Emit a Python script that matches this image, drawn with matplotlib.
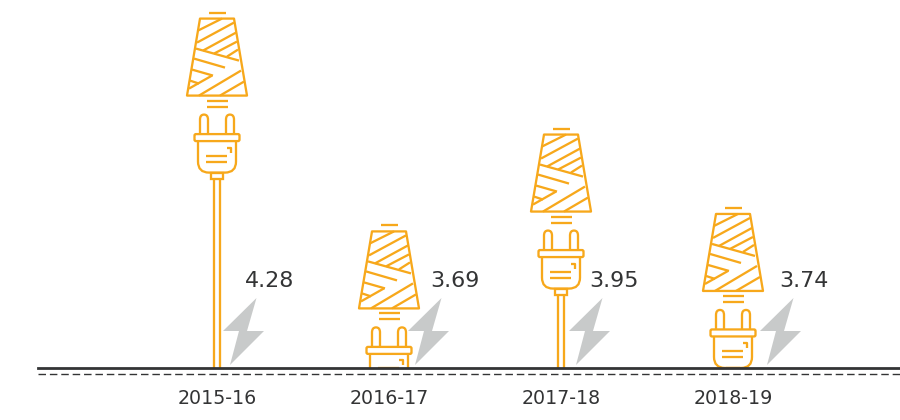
import matplotlib

matplotlib.use("Agg")
import matplotlib.pyplot as plt
from matplotlib.patches import FancyBboxPatch, PathPatch, Polygon, Rectangle
from matplotlib.path import Path
from matplotlib.transforms import Affine2D, ScaledTranslation

years = ["2015-16", "2016-17", "2017-18", "2018-19"]
values = [4.28, 3.69, 3.95, 3.74]

ORANGE = "#f7a81b"
GREY = "#c8caca"
DARK = "#333435"
DPI = 100
BASE_VALUE = 3.29
PX_PER_UNIT = 359

# horizontal shift of bolt and value label from the icon, pixels
bolt_shift = [6, 19, 8, 27]
label_shift = [28, 41, 28, 46]
# the icons in the original sit a little off a straight scale, pixels (down)
icon_nudge = [0, 1, -2.5, 1.5]

# stripes on the cone, pixels from the icon top centre
STRIPES = [
    ((-19, 18), (5, 6)), ((-20, 30), (17, 10)), ((-14, 38), (19, 20)),
    ((-3, 41), (20, 29)), ((10, 44), (21, 37)), ((-21, 36), (22, 48)),
    ((-23, 46), (8, 55)), ((-25, 57), (-4, 63)), ((-27, 68), (-18, 71)),
    ((-28, 76), (-5, 63)), ((-18, 83), (24, 58)), ((3, 83), (27, 69)),
]


def px_transform(ax, x, y, nudge=0):
    """Pixel offsets (y down) from a data point."""
    return Affine2D().scale(1, -1).translate(*ax.transData.transform((x, y))).translate(0, -nudge)


def draw_icon(ax, x, value, nudge):
    trans = px_transform(ax, x, value, nudge)
    lw = 1.65
    clip = Rectangle((0, 0), 1, 1, transform=ax.transAxes)

    def add(artist):
        ax.add_artist(artist)
        artist.set_clip_path(clip)

    def seg(points):
        line = plt.Line2D(
            *zip(*points), transform=trans, color=ORANGE, lw=lw,
            solid_capstyle="butt", solid_joinstyle="round",
        )
        add(line)

    seg([(-8.5, 0), (8.5, 0)])
    add(Polygon([(-17, 6), (17, 6), (30, 83), (-30, 83)], closed=True, fill=False,
                ec=ORANGE, lw=lw, transform=trans, joinstyle="round"))
    for stripe in STRIPES:
        seg(stripe)
    seg([(-10, 88), (11, 88)])
    seg([(-10, 94), (11, 94)])

    # prongs
    for cx in (-13, 13):
        verts = [(cx - 4, 121), (cx - 4, 107), (cx - 4, 102), (cx, 102), (cx + 4, 102),
                 (cx + 4, 107), (cx + 4, 121)]
        codes = [Path.MOVETO, Path.LINETO, Path.CURVE3, Path.CURVE3, Path.CURVE3,
                 Path.CURVE3, Path.LINETO]
        add(PathPatch(Path(verts, codes), fill=False, ec=ORANGE, lw=lw, transform=trans))

    add(FancyBboxPatch((-22.5, 121.5), 45, 7, boxstyle="round,pad=0,rounding_size=1.5",
                       fill=False, ec=ORANGE, lw=lw, transform=trans))

    # plug body
    verts = [(-19, 129), (-19, 149), (-19, 160), (-8, 160), (8, 160), (19, 160),
             (19, 149), (19, 129)]
    codes = [Path.MOVETO, Path.LINETO, Path.CURVE3, Path.CURVE3, Path.LINETO, Path.CURVE3,
             Path.CURVE3, Path.LINETO]
    add(PathPatch(Path(verts, codes), fill=False, ec=ORANGE, lw=lw, transform=trans))
    seg([(9.5, 135), (14, 135), (14, 140)])
    seg([(-11, 143), (10, 143)])
    seg([(-11, 149), (10, 149)])

    # neck and cable run down to the baseline
    add(Rectangle((-6, 160), 12, 6, fill=False, ec=ORANGE, lw=lw, transform=trans))
    bottom = (value - BASE_VALUE) * PX_PER_UNIT - nudge
    if bottom > 166:
        seg([(-3.2, 166), (-3.2, bottom)])
        seg([(3.2, 166), (3.2, bottom)])


def draw_bolt(ax, x, shift):
    points = [(33.5, -70), (0, -37), (16, -37), (7, -3), (41, -37), (24, -37)]
    ax.add_patch(Polygon(
        [(px + shift, py) for px, py in points], closed=True, fc=GREY, ec="none",
        transform=px_transform(ax, x, BASE_VALUE), clip_on=False,
    ))


fig = plt.figure(figsize=(9, 4.2), dpi=DPI)
ax = fig.add_axes([38 / 900, 52 / 420, 862 / 900, 368 / 420])
ax.set_xlim((38 - 217) / 172, (900 - 217) / 172)
ax.set_ylim(BASE_VALUE, BASE_VALUE + 368 / PX_PER_UNIT)

for side in ("top", "left", "right"):
    ax.spines[side].set_visible(False)
ax.spines["bottom"].set_color(DARK)
ax.spines["bottom"].set_linewidth(2.0)
ax.spines["bottom"].set_zorder(5)
ax.set_yticks([])
ax.set_xticks(range(len(years)), years)
ax.tick_params(axis="x", length=0, pad=14.8, labelsize=13.7, labelcolor=DARK)

# dashed line just below the baseline
ax.plot(
    [0, 1], [0, 0], color=DARK, lw=1.0, dashes=(5.4, 2.8), clip_on=False,
    transform=ax.transAxes + ScaledTranslation(0, -6 / DPI, fig.dpi_scale_trans),
)

for i, (year, value) in enumerate(zip(years, values)):
    draw_icon(ax, i, value, icon_nudge[i])
    draw_bolt(ax, i, bolt_shift[i])
    ax.annotate(
        f"{value:.2f}", xy=(i, BASE_VALUE), xytext=(label_shift[i] * 0.72, 87 * 0.72),
        textcoords="offset points", ha="left", va="center", fontsize=16, color=DARK,
    )

fig.savefig("out.png", dpi=DPI)
